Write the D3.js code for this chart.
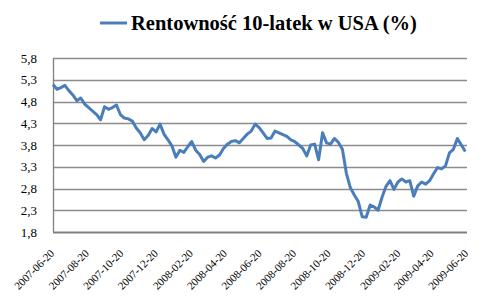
<!DOCTYPE html>
<html>
<head>
<meta charset="utf-8">
<script src="https://cdn.jsdelivr.net/npm/d3@7"></script>
<style>
  body { margin: 0; background: #fff; }
  svg { display: block; }
</style>
</head>
<body>
<svg width="484" height="307"></svg>
<script>
// weekly readings of the 10y yield, first week = 2007-06-20
const startDate = "2007-06-20";
const yields = [
  5.19, 5.08, 5.12, 5.17, 5.05, 4.95, 4.82, 4.88, 4.74, 4.66,
  4.58, 4.50, 4.38, 4.68, 4.62, 4.66, 4.72, 4.50, 4.42, 4.40,
  4.35, 4.19, 4.08, 3.92, 4.02, 4.18, 4.10, 4.28, 4.05, 3.92,
  3.78, 3.52, 3.68, 3.63, 3.76, 3.88, 3.68, 3.58, 3.42, 3.52,
  3.55, 3.50, 3.57, 3.72, 3.82, 3.88, 3.90, 3.85, 3.95, 4.05,
  4.12, 4.28, 4.20, 4.08, 3.95, 3.96, 4.12, 4.08, 4.04, 4.00,
  3.92, 3.88, 3.80, 3.72, 3.55, 3.80, 3.82, 3.46, 4.08, 3.85,
  3.82, 3.95, 3.86, 3.70, 3.15, 2.82, 2.65, 2.50, 2.15, 2.14,
  2.42, 2.38, 2.30, 2.60, 2.85, 2.98, 2.78, 2.95, 3.02, 2.95,
  2.98, 2.62, 2.86, 2.95, 2.90, 2.98, 3.14, 3.28, 3.25, 3.32,
  3.62, 3.70, 3.95, 3.80, 3.65
];
const yTicks = [1.8, 2.3, 2.8, 3.3, 3.8, 4.3, 4.8, 5.3, 5.8];
const xTicks = [
  "2007-06-20", "2007-08-20", "2007-10-20", "2007-12-20", "2008-02-20",
  "2008-04-20", "2008-06-20", "2008-08-20", "2008-10-20", "2008-12-20",
  "2009-02-20", "2009-04-20", "2009-06-20"
];
const seriesName = "Rentowność 10-latek w USA (%)";

const parse = d3.timeParse("%Y-%m-%d");
const t0 = parse(startDate);
let data = yields.map(function(v, i) {
  return { date: d3.timeDay.offset(t0, i * 7), value: v };
});

let svg = d3.select("svg");
const plotLeft = 53, plotRight = 467, plotTop = 58, plotBottom = 232;

let x = d3.scaleTime()
  .domain([parse(xTicks[0]), parse(xTicks[xTicks.length - 1])])
  .range([plotLeft, plotRight]);
let y = d3.scaleLinear().domain([1.8, 5.8]).range([plotBottom, plotTop]);

// gridlines
svg.append("g")
  .selectAll("line")
  .data(yTicks.slice(1))
  .enter()
  .append("line")
  .attr("x1", plotLeft)
  .attr("x2", plotRight)
  .attr("y1", function(d) { return Math.round(y(d)) + 0.5; })
  .attr("y2", function(d) { return Math.round(y(d)) + 0.5; })
  .attr("stroke", "#8c8c8c")
  .attr("stroke-width", 1.3);

// y labels
svg.append("g")
  .selectAll("text")
  .data(yTicks)
  .enter()
  .append("text")
  .attr("x", 37)
  .attr("y", function(d) { return y(d); })
  .attr("dy", "0.35em")
  .attr("text-anchor", "end")
  .style("font-family", "'Liberation Serif', serif")
  .style("font-size", "13px")
  .attr("fill", "#000")
  .text(function(d) { return d3.format(".1f")(d).replace(".", ","); });

// axes lines
svg.append("line")
  .attr("x1", plotLeft + 0.5).attr("x2", plotLeft + 0.5)
  .attr("y1", plotTop).attr("y2", plotBottom)
  .attr("stroke", "#808080").attr("stroke-width", 1.3);
svg.append("line")
  .attr("x1", plotLeft).attr("x2", plotRight)
  .attr("y1", plotBottom + 0.5).attr("y2", plotBottom + 0.5)
  .attr("stroke", "#808080").attr("stroke-width", 2);

// x labels
svg.append("g")
  .selectAll("text")
  .data(xTicks)
  .enter()
  .append("text")
  .attr("transform", function(d) {
    return "translate(" + (x(parse(d)) + 2) + "," + 254 + ") rotate(-45)";
  })
  .attr("text-anchor", "end")
  .style("font-family", "'Liberation Serif', serif")
  .style("font-size", "11px")
  .attr("fill", "#000")
  .text(function(d) { return d; });

// line
let line = d3.line()
  .x(function(d) { return x(d.date); })
  .y(function(d) { return y(d.value); });

svg.append("path")
  .datum(data)
  .attr("d", line)
  .attr("fill", "none")
  .attr("stroke", "#4a7ebb")
  .attr("stroke-width", 3)
  .attr("stroke-linejoin", "round");

// legend / title
svg.append("line")
  .attr("x1", 100).attr("x2", 127)
  .attr("y1", 23).attr("y2", 23)
  .attr("stroke", "#4a7ebb")
  .attr("stroke-width", 3);
svg.append("text")
  .attr("x", 131)
  .attr("y", 30)
  .style("font-family", "'Liberation Serif', serif")
  .style("font-size", "20.5px")
  .style("font-weight", "bold")
  .attr("fill", "#000")
  .text(seriesName);
</script>
</body>
</html>
